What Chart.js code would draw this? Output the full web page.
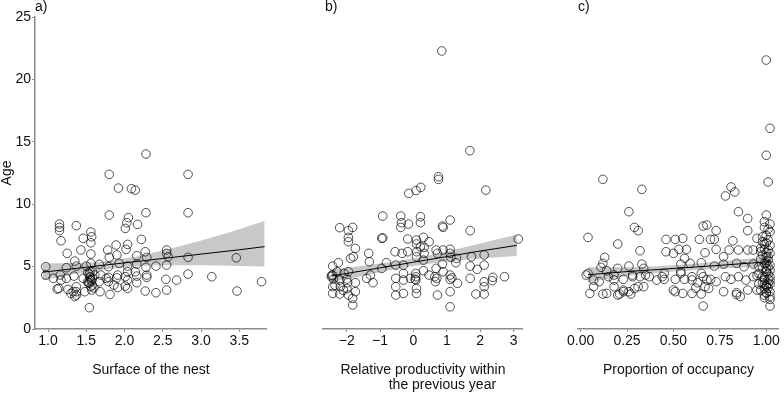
<!DOCTYPE html>
<html>
<head>
<meta charset="utf-8">
<script src="https://cdn.jsdelivr.net/npm/chart.js@4.4.0/dist/chart.umd.min.js"></script>
<style>
  body { margin: 0; background: #fff; }
  #wrap { position: relative; width: 784px; height: 393px; }
  .panel { position: absolute; top: 0; height: 393px; }
</style>
</head>
<body>
<div id="wrap">
  <div class="panel" style="left:0;width:272px"><canvas id="chartA" width="272" height="393"></canvas></div>
  <div class="panel" style="left:272px;width:256px"><canvas id="chartB" width="256" height="393"></canvas></div>
  <div class="panel" style="left:528px;width:256px"><canvas id="chartC" width="256" height="393"></canvas></div>
</div>
<script>
// axes
var ageTicks = [0, 5, 10, 15, 20, 25];
var nestTicks = [1.0, 1.5, 2.0, 2.5, 3.0, 3.5];
var nestTickLabels = ["1.0", "1.5", "2.0", "2.5", "3.0", "3.5"];
var prodTicks = [-2, -1, 0, 1, 2, 3];
var prodTickLabels = ["\u22122", "\u22121", "0", "1", "2", "3"];
var occTicks = [0, 0.25, 0.5, 0.75, 1];
var occTickLabels = ["0.00", "0.25", "0.50", "0.75", "1.00"];

// a) surface of the nest : [surface, age]
var nestPoints = [
  [2.28,14.02],[1.80,12.39],[2.83,12.39],[1.92,11.29],[2.09,11.24],[2.14,11.13],[1.80,9.13],[2.28,9.32],
  [2.83,9.32],[1.15,8.41],[1.15,8.14],[1.15,7.88],[1.37,8.28],[2.05,8.92],[2.03,8.52],[2.01,8.06],
  [2.17,8.38],[1.56,7.77],[1.57,7.39],[1.46,7.26],[1.17,7.07],[1.56,6.91],[2.22,7.18],[1.89,6.73],
  [2.04,6.78],[1.43,6.33],[1.78,6.33],[2.02,6.38],[1.25,6.06],[1.56,6.01],[2.27,6.19],[2.55,6.33],
  [2.55,6.06],[2.57,5.79],[1.90,5.93],[2.16,5.87],[1.35,5.44],[1.80,5.74],[1.56,5.26],[2.29,5.74],
  [2.83,5.74],[3.46,5.71],[0.97,4.99],[0.97,4.32],[1.24,4.91],[1.37,5.04],[1.50,5.04],[1.67,5.18],
  [1.79,4.99],[1.93,5.26],[2.04,5.04],[2.16,5.20],[2.28,4.94],[2.41,5.04],[2.55,5.12],[1.16,4.32],
  [1.34,4.24],[1.54,4.40],[1.55,4.14],[1.57,3.87],[1.61,4.32],[1.69,4.32],[1.79,4.14],[1.79,3.79],
  [1.91,4.32],[2.01,4.19],[2.04,3.92],[2.16,4.24],[2.29,4.32],[2.29,4.14],[2.54,3.98],[2.68,3.92],
  [2.83,4.40],[3.14,4.19],[3.79,3.79],[1.14,3.25],[1.26,3.17],[1.37,3.39],[1.37,2.99],[1.37,2.72],
  [1.48,2.99],[1.57,3.12],[1.68,2.99],[1.81,2.77],[1.91,3.33],[2.01,3.44],[2.04,3.25],[2.16,3.71],
  [2.27,3.04],[2.41,2.91],[2.55,3.12],[3.47,3.04],[1.54,1.71],[1.24,4.06],[1.52,3.79],[1.58,3.52],
  [1.67,3.79],[1.86,3.52],[1.46,4.06],[1.07,4.06],[1.17,3.92],[2.04,4.59],[2.14,4.59],[1.55,4.59],
  [1.54,3.66],[1.12,3.20],[1.30,2.85],[1.55,3.95],[1.58,4.05],[1.76,4.05],[1.52,4.50],[1.55,4.20],
  [1.53,3.70],[1.56,3.40],[1.60,3.30],[1.58,4.60],[1.90,4.10],[1.33,3.00],[1.35,2.60]
];
var nestFitX = [0.93, 1.5, 2.0, 2.5, 3.0, 3.5, 3.83];
var nestFit = [4.55, 4.95, 5.30, 5.65, 6.00, 6.35, 6.60];
var nestUpper = [5.25, 5.30, 5.65, 6.30, 7.10, 8.00, 8.65];
var nestLower = [3.90, 4.55, 4.95, 5.10, 5.10, 5.05, 5.00];

// b) relative productivity within the previous year : [productivity, age]
var prodPoints = [
  [0.85,22.28],[1.69,14.29],[0.75,12.20],[0.75,11.99],[-0.14,10.87],[0.08,11.10],[0.22,11.35],[2.17,11.13],
  [-0.92,9.05],[-0.38,9.05],[0.21,9.00],[-0.36,8.52],[-0.38,8.14],[-0.15,8.41],[0.21,8.52],[1.10,8.73],
  [0.87,8.25],[0.89,8.14],[-2.21,8.12],[-1.95,7.88],[-1.82,8.14],[-1.95,7.34],[-1.95,6.99],[-1.74,6.46],
  [-1.80,5.79],[-1.88,5.66],[-0.95,7.26],[-0.92,7.30],[1.70,7.88],[3.14,7.21],[-0.17,7.21],[0.09,7.13],
  [0.30,7.34],[0.47,6.99],[0.09,6.81],[0.21,6.59],[0.32,6.54],[0.10,6.19],[-0.17,6.19],[-0.34,6.06],
  [-0.55,6.19],[-1.34,6.06],[-1.32,5.39],[0.32,6.06],[0.68,6.33],[0.72,6.06],[0.89,6.33],[1.10,6.38],
  [1.10,6.06],[1.12,5.74],[1.29,5.66],[1.27,5.31],[1.74,5.79],[2.12,5.93],[2.12,5.12],[1.91,4.78],
  [1.70,5.04],[1.70,4.06],[2.38,4.14],[2.36,3.87],[2.12,3.79],[2.12,3.39],[1.87,2.80],[2.12,2.80],
  [2.73,4.19],[1.32,3.66],[1.10,1.78],[1.10,2.99],[1.10,4.32],[1.10,3.98],[0.89,4.59],[0.87,5.20],
  [0.68,4.86],[0.64,4.19],[0.66,3.79],[0.72,2.72],[0.47,4.32],[0.30,4.67],[0.30,5.52],[0.09,5.79],
  [0.07,4.45],[0.07,4.19],[0.07,3.92],[0.09,3.25],[0.09,2.85],[-0.09,4.06],[-0.30,4.45],[-0.30,3.92],
  [-0.30,2.85],[-0.53,4.06],[-0.53,3.39],[-0.53,2.72],[-0.53,5.12],[-0.30,5.12],[-0.81,5.31],[-0.95,4.86],
  [-1.21,3.71],[-1.40,4.06],[-1.29,4.32],[-2.42,5.04],[-2.25,5.31],[-2.42,4.32],[-2.46,4.19],[-2.42,3.39],
  [-2.42,2.85],[-2.21,3.92],[-2.19,3.39],[-2.21,2.80],[-1.95,4.59],[-1.97,3.71],[-1.99,3.25],[-1.95,2.72],
  [-1.82,2.45],[-1.82,1.92],[-1.74,3.71],[-1.74,2.99],[-2.29,4.59],[-2.08,4.45],[-2.45,4.30],[-2.40,4.00],
  [-2.35,3.50],[-2.00,4.00],[-2.10,3.10],[0.70,4.05],[1.15,4.10],[0.05,4.00]
];
var prodFitX = [-2.45, -2, -1, 0, 1, 2, 3.1];
var prodFit = [4.25, 4.45, 4.90, 5.35, 5.80, 6.25, 6.70];
var prodUpper = [4.75, 4.90, 5.25, 5.65, 6.20, 6.85, 7.55];
var prodLower = [3.75, 4.00, 4.55, 5.05, 5.40, 5.65, 5.85];

// c) proportion of occupancy : [proportion, age]
var occPoints = [
  [1.00,21.55],[1.02,16.08],[1.00,13.92],[1.01,11.78],[0.12,11.99],[0.33,11.19],[0.81,11.38],[0.83,10.98],
  [0.78,10.66],[0.26,9.40],[0.85,9.40],[0.90,8.86],[1.00,9.13],[1.02,8.41],[0.99,8.14],[0.29,8.14],
  [0.31,7.88],[0.66,8.25],[0.68,8.33],[0.73,7.88],[0.90,7.88],[0.95,7.26],[0.98,7.39],[0.04,7.34],
  [0.20,6.81],[0.46,7.18],[0.51,7.18],[0.55,7.26],[0.64,7.18],[0.70,7.18],[0.72,7.18],[0.32,6.27],
  [0.46,6.19],[0.50,6.06],[0.53,6.38],[0.57,6.38],[0.67,6.11],[0.73,6.38],[0.77,5.79],[0.80,6.33],
  [0.82,7.07],[0.85,6.33],[0.90,6.33],[0.93,6.33],[0.97,6.46],[1.01,6.33],[1.02,6.06],[1.00,5.79],
  [1.01,5.52],[0.99,5.26],[0.13,5.74],[0.11,4.94],[0.14,4.67],[0.20,4.86],[0.26,5.04],[0.33,5.20],
  [0.34,4.86],[0.56,5.66],[0.54,5.20],[0.59,5.26],[0.65,5.31],[0.72,5.04],[0.77,5.20],[0.84,5.26],
  [0.88,4.99],[0.93,5.20],[0.04,4.45],[0.03,4.32],[0.07,3.92],[0.15,4.19],[0.18,4.32],[0.23,3.98],
  [0.28,4.32],[0.35,4.32],[0.41,3.92],[0.44,4.19],[0.45,3.98],[0.51,3.98],[0.54,4.45],[0.56,3.98],
  [0.60,4.19],[0.63,3.71],[0.66,4.19],[0.70,3.98],[0.73,3.79],[0.78,4.19],[0.81,3.98],[0.85,4.19],
  [0.89,3.92],[0.93,4.19],[0.96,4.45],[1.00,4.59],[1.02,4.19],[1.01,3.66],[0.99,3.25],[1.02,2.99],
  [0.99,2.72],[0.95,3.12],[0.90,3.12],[0.84,2.91],[0.77,2.99],[0.69,3.25],[0.65,2.80],[0.60,2.85],
  [0.55,2.85],[0.51,2.99],[0.66,1.84],[1.02,1.84],[1.02,2.37],[0.05,2.85],[0.12,2.80],[0.20,2.72],
  [0.23,2.99],[0.27,2.80],[0.31,3.39],[0.34,3.39],[0.29,3.25],[0.14,2.85],[0.21,2.80],[0.18,3.39],
  [1.00,4.86],[0.98,4.19],[1.02,4.72],[0.99,3.92],[1.01,7.13],[1.02,7.80],[0.98,5.93],[1.00,3.40],
  [1.01,5.00],[0.99,6.80],[1.02,3.60],[1.00,2.90],[0.99,8.60],[1.01,8.00],[1.00,7.50],[0.98,7.00],
  [1.02,6.70],[0.99,6.40],[1.00,6.10],[1.01,5.80],[0.97,5.60],[1.00,5.30],[1.02,5.10],[0.98,4.90],
  [1.00,4.60],[1.01,4.40],[0.99,4.10],[1.02,3.90],[0.98,3.70],[1.00,3.50],[1.01,3.30],[0.97,3.10],
  [1.00,2.90],[1.02,2.60],[0.99,2.50],[1.00,6.90],[0.97,6.20],[1.01,4.00],[0.99,3.60],[0.96,5.00],
  [0.95,4.30],[0.96,3.60],[0.84,2.75],[0.86,2.60],[0.12,5.26],[0.10,3.79],[0.07,3.39],[0.18,3.93],
  [0.23,3.12],[0.28,4.19],[0.26,2.99],[0.32,4.19],[0.37,4.19],[0.45,4.45],[0.50,3.12],[0.54,4.60],
  [0.60,3.93],[0.62,3.27],[0.65,4.46],[0.67,3.39],[0.68,3.93]
];
var occFitX = [0.04, 0.25, 0.5, 0.75, 1.02];
var occFit = [4.35, 4.60, 4.85, 5.10, 5.40];
var occUpper = [4.95, 4.95, 5.10, 5.40, 5.80];
var occLower = [3.75, 4.25, 4.60, 4.85, 5.00];

Chart.defaults.font.family = '"Liberation Sans", Arial, sans-serif';
Chart.defaults.color = "#111";

// petit plugin pour a) b) c)
var panelTag = {
  id: "panelTag",
  afterDraw: function(chart, args, opts) {
    var ctx = chart.ctx;
    ctx.save();
    ctx.font = '14px "Liberation Sans", Arial, sans-serif';
    ctx.fillStyle = "#111";
    ctx.textBaseline = "middle";
    ctx.fillText(opts.text, chart.chartArea.left + (opts.dx || 0), 7);
    ctx.restore();
  }
};

function toXY(xs, ys) {
  return xs.map(function(x, i) { return { x: x, y: ys[i] }; });
}

function makePanel(id, cfg) {
  return new Chart(document.getElementById(id), {
    type: "scatter",
    plugins: [panelTag],
    data: {
      datasets: [
        {
          data: cfg.points.map(function(p) { return { x: p[0], y: p[1] }; }),
          pointRadius: 4.3,
          pointBorderWidth: 0.8,
          borderColor: "rgba(0,0,0,0.85)",
          backgroundColor: "rgba(0,0,0,0)",
          order: 1
        },
        {
          data: toXY(cfg.fitX, cfg.fit),
          showLine: true,
          pointRadius: 0,
          borderColor: "#000",
          borderWidth: 1,
          order: 0
        },
        {
          data: toXY(cfg.fitX, cfg.upper),
          showLine: true,
          pointRadius: 0,
          borderWidth: 0,
          borderColor: "rgba(0,0,0,0)",
          backgroundColor: "#c8c8c8",
          cubicInterpolationMode: "monotone",
          fill: "+1",
          order: 2
        },
        {
          data: toXY(cfg.fitX, cfg.lower),
          showLine: true,
          pointRadius: 0,
          borderWidth: 0,
          borderColor: "rgba(0,0,0,0)",
          cubicInterpolationMode: "monotone",
          fill: false,
          order: 2
        }
      ]
    },
    options: {
      responsive: false,
      animation: false,
      events: [],
      layout: { padding: cfg.padding },
      plugins: {
        legend: { display: false },
        tooltip: { enabled: false },
        panelTag: { text: cfg.tag, dx: cfg.tagDx || 0 }
      },
      scales: {
        x: {
          type: "linear",
          min: cfg.xMin,
          max: cfg.xMax,
          afterBuildTicks: function(s) { s.ticks = cfg.ticks.map(function(v) { return { value: v }; }); },
          afterFit: function(s) { s.height = 64; },
          ticks: {
            autoSkip: false,
            maxRotation: 0,
            padding: 1,
            font: { size: 14 },
            color: "#111",
            callback: function(v) { return cfg.tickLabels[cfg.ticks.indexOf(v)]; }
          },
          grid: { drawOnChartArea: false, drawTicks: true, tickLength: 3, color: "#8c8c8c" },
          border: { display: true, color: "#8c8c8c", width: 1.5 },
          title: {
            display: true,
            text: cfg.title,
            color: "#111",
            font: { size: 14, lineHeight: 1.07 },
            padding: { top: 0, bottom: cfg.titlePad }
          }
        },
        y: {
          type: "linear",
          display: cfg.showY,
          min: 0,
          max: 25,
          afterBuildTicks: function(s) { s.ticks = ageTicks.map(function(v) { return { value: v }; }); },
          afterFit: function(s) { s.width = 35; },
          ticks: { padding: 1, font: { size: 14 }, color: "#111" },
          grid: { drawOnChartArea: false, drawTicks: true, tickLength: 3, color: "#8c8c8c" },
          border: { display: true, color: "#8c8c8c", width: 1.5 },
          title: { display: true, text: "Age", color: "#111", font: { size: 14, lineHeight: 1.07 }, padding: 0 }
        }
      }
    }
  });
}

makePanel("chartA", {
  tag: "a)", points: nestPoints, fitX: nestFitX, fit: nestFit, upper: nestUpper, lower: nestLower,
  xMin: 0.83, xMax: 3.86, ticks: nestTicks, tickLabels: nestTickLabels,
  title: "Surface of the nest", titlePad: 15, showY: true,
  padding: { top: 17, left: 0, right: 2, bottom: 0 }
});

makePanel("chartB", {
  tag: "b)", tagDx: 2, points: prodPoints, fitX: prodFitX, fit: prodFit, upper: prodUpper, lower: prodLower,
  xMin: -2.71, xMax: 3.28, ticks: prodTicks, tickLabels: prodTickLabels,
  title: ["Relative productivity within", "          the previous year"], titlePad: 0, showY: false,
  padding: { top: 17, left: 16, right: 3, bottom: 0 }
});

makePanel("chartC", {
  tag: "c)", points: occPoints, fitX: occFitX, fit: occFit, upper: occUpper, lower: occLower,
  xMin: -0.014, xMax: 1.068, ticks: occTicks, tickLabels: occTickLabels,
  title: "Proportion of occupancy", titlePad: 15, showY: false,
  padding: { top: 17, left: 15, right: 0, bottom: 0 }
});
</script>
</body>
</html>
